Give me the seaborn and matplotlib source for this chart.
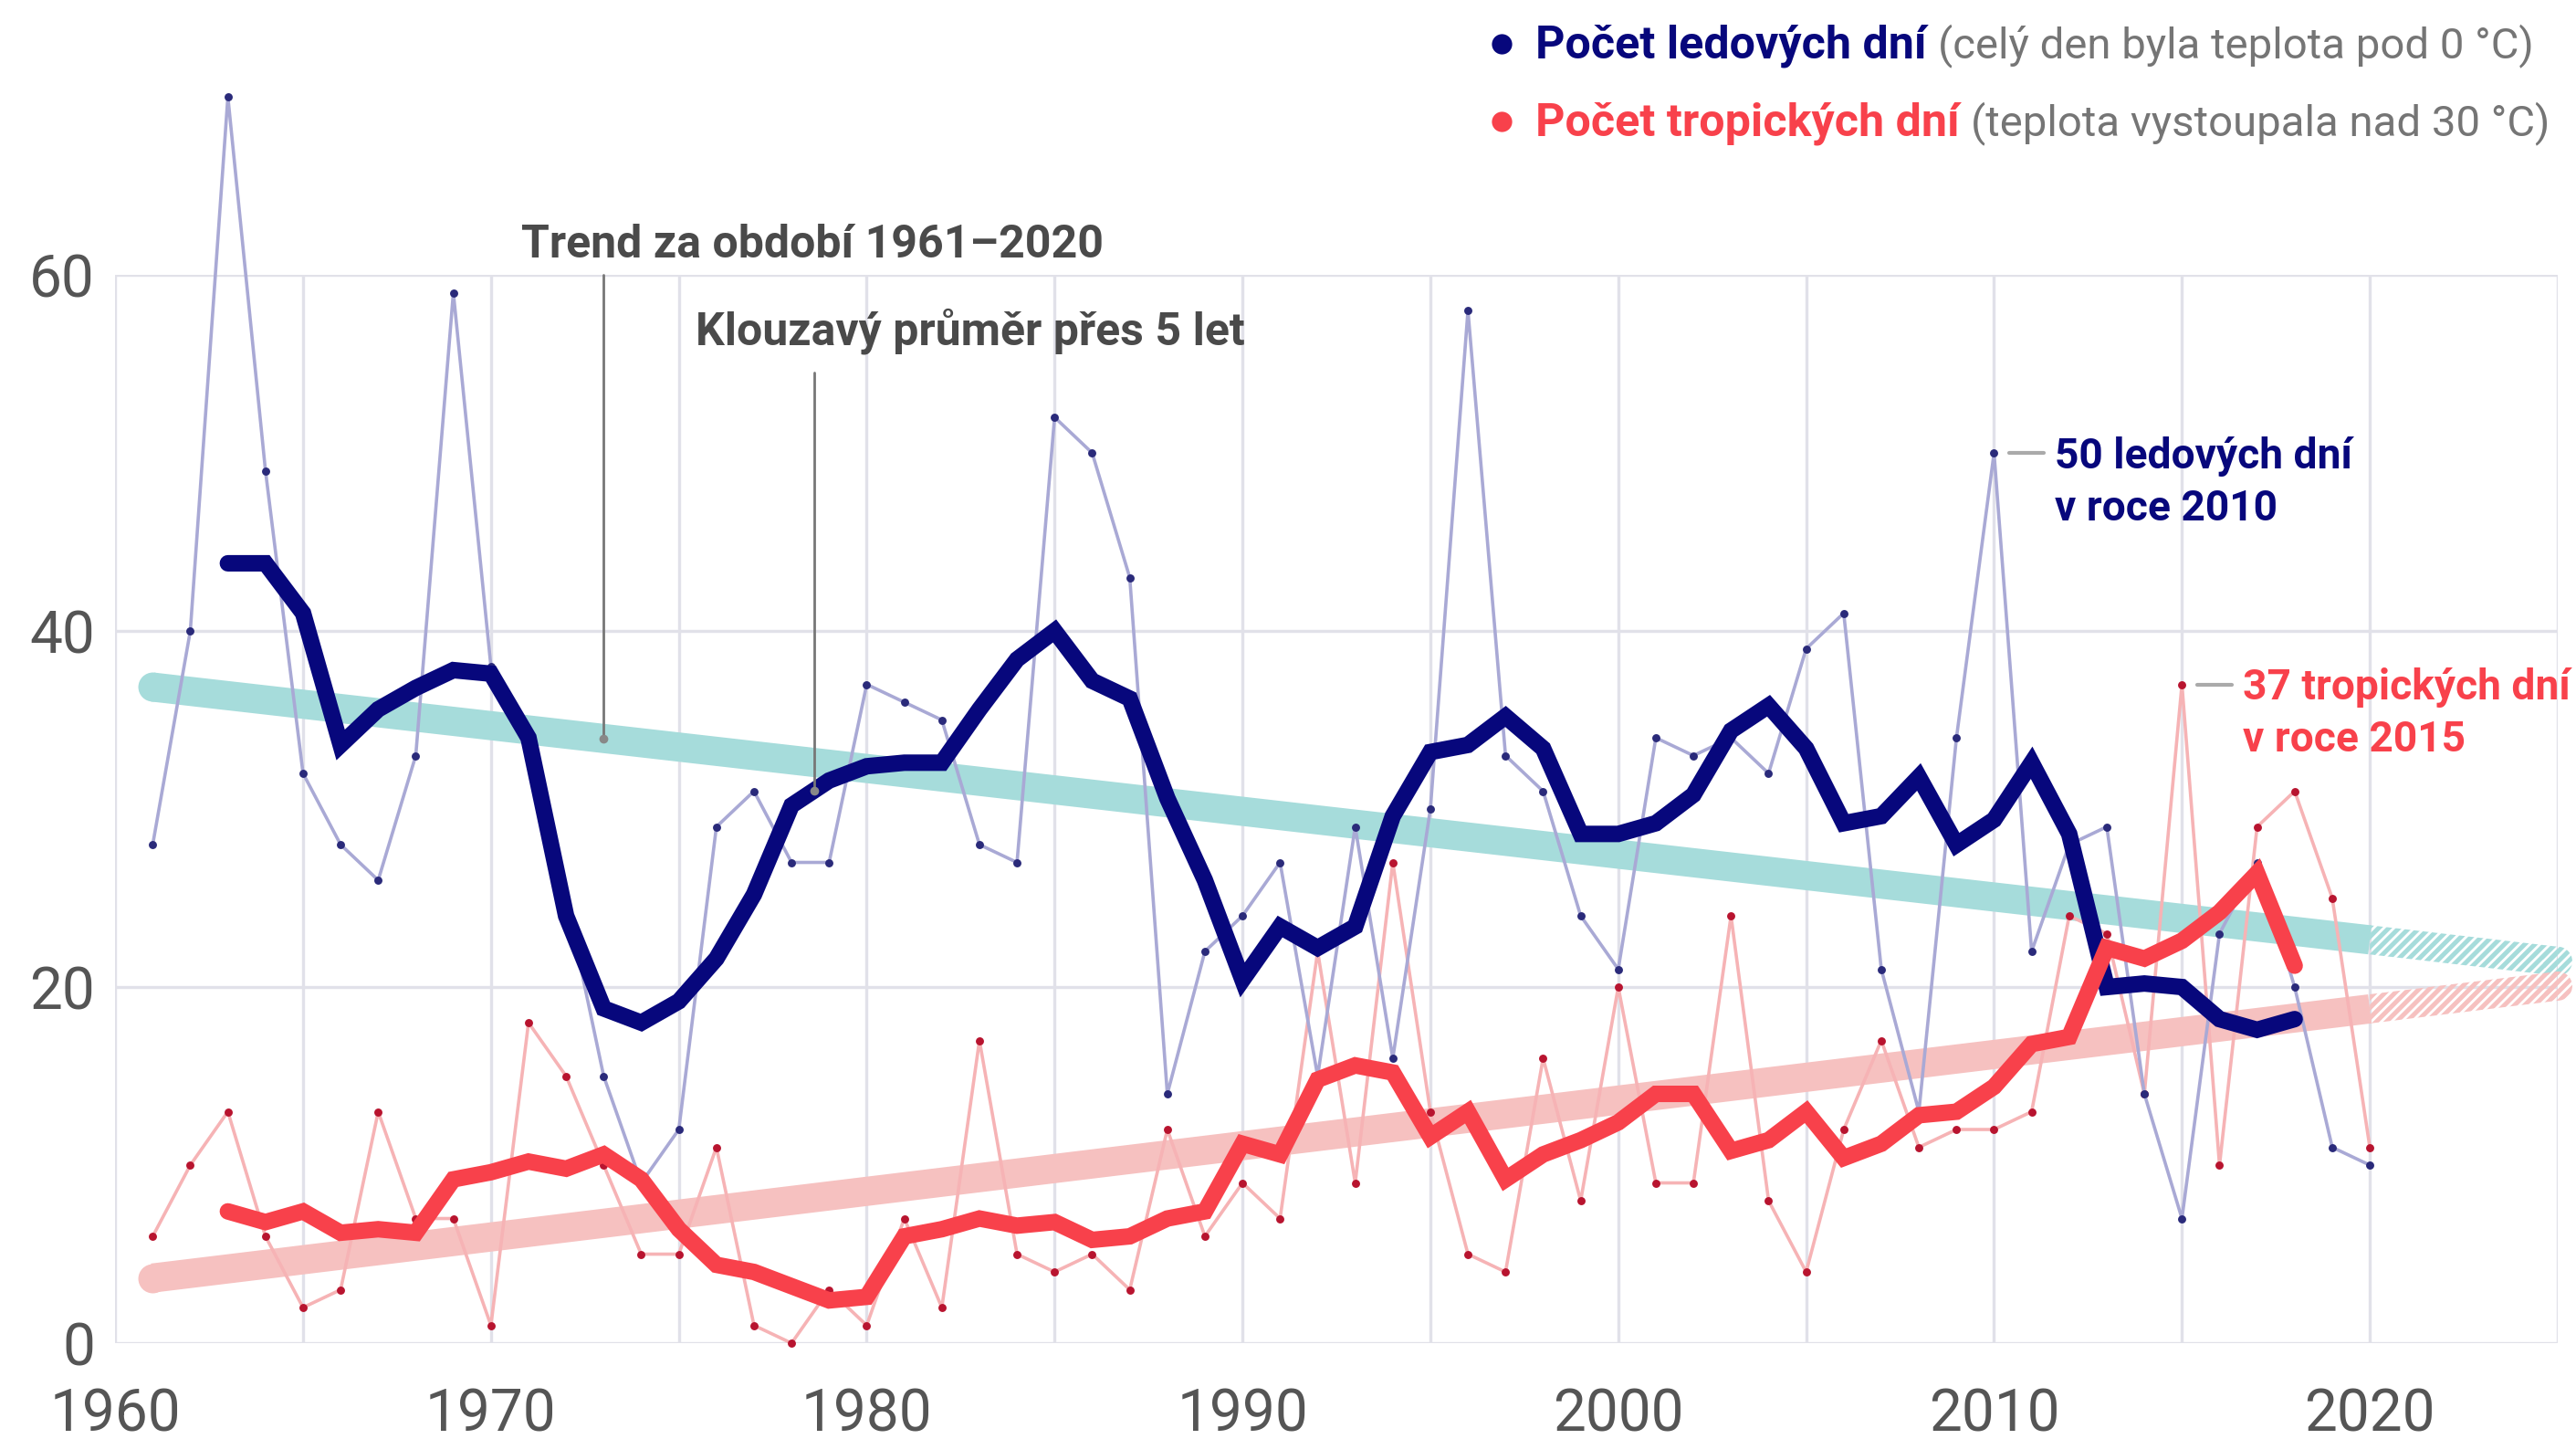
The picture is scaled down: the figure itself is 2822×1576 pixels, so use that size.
import numpy as np
import pandas as pd
import matplotlib.pyplot as plt
import seaborn as sns
from matplotlib.patches import Ellipse

# annual counts, 1961-2020
years = list(range(1961, 2021))
ice_days = [28, 40, 70, 49, 32, 28, 26, 33, 59, 38,
            33, 25, 15, 9, 12, 29, 31, 27, 27, 37,
            36, 35, 28, 27, 52, 50, 43, 14, 22, 24,
            27, 15, 29, 16, 30, 58, 33, 31, 24, 21,
            34, 33, 34, 32, 39, 41, 21, 13, 34, 50,
            22, 28, 29, 14, 7, 23, 27, 20, 11, 10]
tropical_days = [6, 10, 13, 6, 2, 3, 13, 7, 7, 1,
                 18, 15, 10, 5, 5, 11, 1, 0, 3, 1,
                 7, 2, 17, 5, 4, 5, 3, 12, 6, 9,
                 7, 22, 9, 27, 13, 5, 4, 16, 8, 20,
                 9, 9, 24, 8, 4, 12, 17, 11, 12, 12,
                 13, 24, 23, 14, 37, 10, 29, 31, 25, 11]

legend_bold = ['Počet ledových dní', 'Počet tropických dní']
legend_light = ['(celý den byla teplota pod 0 °C)', '(teplota vystoupala nad 30 °C)']
trend_label = 'Trend za období 1961–2020'
ma_label = 'Klouzavý průměr přes 5 let'
ice_note = ['50 ledových dní', 'v roce 2010']
trop_note = ['37 tropických dní', 'v roce 2015']

NAVY = '#07077c'
RED = '#f8414b'
NAVY_THIN = '#a9a9d5'
RED_THIN = '#f6b3b5'
NAVY_DOT = '#2a2a7a'
RED_DOT = '#b8142f'
TEAL = '#a6dcdb'
PINK = '#f6c1c0'
GREY = '#4a4a4a'

df = pd.DataFrame({'year': years, 'ice': ice_days, 'trop': tropical_days})
df['ice_ma'] = df['ice'].rolling(5, center=True).mean()
df['trop_ma'] = df['trop'].rolling(5, center=True).mean()

sns.set_theme(style='white')
plt.rcParams['font.family'] = ['Roboto', 'DejaVu Sans']
plt.rcParams['hatch.linewidth'] = 1.8

fig = plt.figure(figsize=(14.11, 7.88), dpi=200)
ax = fig.add_axes([0.0447, 0.0666, 0.9482, 0.7424])
ax.set_xlim(1960, 2025)
ax.set_ylim(0, 60)

# trend bands (solid 1961-2020, hatched extension to 2025)
band_lw = 11.5
band_px = band_lw * fig.dpi / 72
px_y = ax.get_position().height * fig.get_figheight() * fig.dpi / 60
px_x = ax.get_position().width * fig.get_figwidth() * fig.dpi / 65
half = band_px / 2 / px_y
fits = {}
for col, color in [('ice', TEAL), ('trop', PINK)]:
    k, q = np.polyfit(df['year'], df[col], 1)
    fits[col] = (k, q)
    xs = np.array([1961, 2020])
    ax.plot(xs, k * xs + q, color=color, lw=band_lw, solid_capstyle='butt', zorder=1, clip_on=False)
    ax.plot([1961], [k * 1961 + q], 'o', ms=band_lw, color=color, mew=0, zorder=1, clip_on=False)
    xe = np.array([2020, 2025])
    ax.fill_between(xe, k * xe + q - half, k * xe + q + half, facecolor='none',
                    edgecolor=color, hatch='//////', lw=0, zorder=1, clip_on=False)
    ax.add_patch(Ellipse((2025, k * 2025 + q), band_px / px_x, 2 * half, facecolor='none',
                         edgecolor=color, hatch='//////', lw=0, zorder=1, clip_on=False))

# yearly values
sns.lineplot(data=df, x='year', y='trop', color=RED_THIN, lw=1.3, marker='o', markersize=3.2,
             markerfacecolor=RED_DOT, markeredgewidth=0, ax=ax, zorder=2, clip_on=False)
sns.lineplot(data=df, x='year', y='ice', color=NAVY_THIN, lw=1.3, marker='o', markersize=3.2,
             markerfacecolor=NAVY_DOT, markeredgewidth=0, ax=ax, zorder=2, clip_on=False)

# 5-year moving averages
sns.lineplot(data=df, x='year', y='ice_ma', color=NAVY, lw=6.5, ax=ax, zorder=3,
             solid_capstyle='round', solid_joinstyle='miter', clip_on=False)
sns.lineplot(data=df, x='year', y='trop_ma', color=RED, lw=6.5, ax=ax, zorder=4,
             solid_capstyle='round', solid_joinstyle='miter', clip_on=False)

ax.set(xlabel='', ylabel='')
ax.set_xticks(range(1960, 2021, 10))
ax.set_xticks(range(1965, 2026, 10), minor=True)
ax.set_yticks([0, 20, 40, 60])
ax.grid(True, which='both', color='#e1e1e9', lw=1.2, zorder=0)
ax.set_axisbelow(True)
for s in ax.spines.values():
    s.set_visible(False)
ax.tick_params(axis='both', which='both', length=0, labelsize=23, labelcolor='#555555')
ax.tick_params(axis='x', pad=17)
ax.tick_params(axis='y', pad=8)

# leader annotations
k, q = fits['ice']
ax.plot([1973, 1973], [60, k * 1973 + q], color='#777777', lw=1, zorder=5, clip_on=False)
ax.plot([1973], [k * 1973 + q], 'o', ms=3.5, color='#888888', mew=0, zorder=5, clip_on=False)
ax.text(1970.8, 61.0, trend_label, fontsize=18, fontweight='bold', color=GREY, va='baseline')

ma_x = 1978.6
ma_y = np.interp(ma_x, df['year'], df['ice_ma'].fillna(df['ice']))
ax.plot([ma_x, ma_x], [54.5, ma_y], color='#777777', lw=1, zorder=5, clip_on=False)
ax.plot([ma_x], [ma_y], 'o', ms=3.5, color='#888888', mew=0, zorder=5, clip_on=False)
ax.text(1975.45, 56.1, ma_label, fontsize=18, fontweight='bold', color=GREY, va='baseline')

# highlighted years
for note, col, yr, color in [(ice_note, 'ice', 2010, NAVY), (trop_note, 'trop', 2015, RED)]:
    val = df.loc[df['year'] == yr, col].iloc[0]
    ax.plot([yr + 0.4, yr + 1.33], [val, val], color='#aaaaaa', lw=1.5, clip_on=False)
    ax.annotate(note[0], xy=(yr, val), xytext=(24, -6), textcoords='offset points',
                fontsize=16.6, fontweight='bold', color=color, va='baseline')
    ax.annotate(note[1], xy=(yr, val), xytext=(24, -26.5), textcoords='offset points',
                fontsize=16.6, fontweight='bold', color=color, va='baseline')

# legend in the top right corner
renderer = fig.canvas.get_renderer()
for bold, light, color, base in zip(legend_bold, legend_light, [NAVY, RED], [0.960, 0.906]):
    t = fig.text(0.596, base, bold, fontsize=18.1, fontweight='bold', color=color, va='baseline')
    bb = t.get_window_extent(renderer).transformed(fig.transFigure.inverted())
    fig.text(bb.x1 + 0.0045, base, light, fontsize=17.0, fontweight='normal', color='#757575', va='baseline')
    ax.plot([0.5829], [base + 0.0095], 'o', ms=8, color=color, mew=0,
            transform=fig.transFigure, clip_on=False)

fig.savefig('out.png', dpi=200)
